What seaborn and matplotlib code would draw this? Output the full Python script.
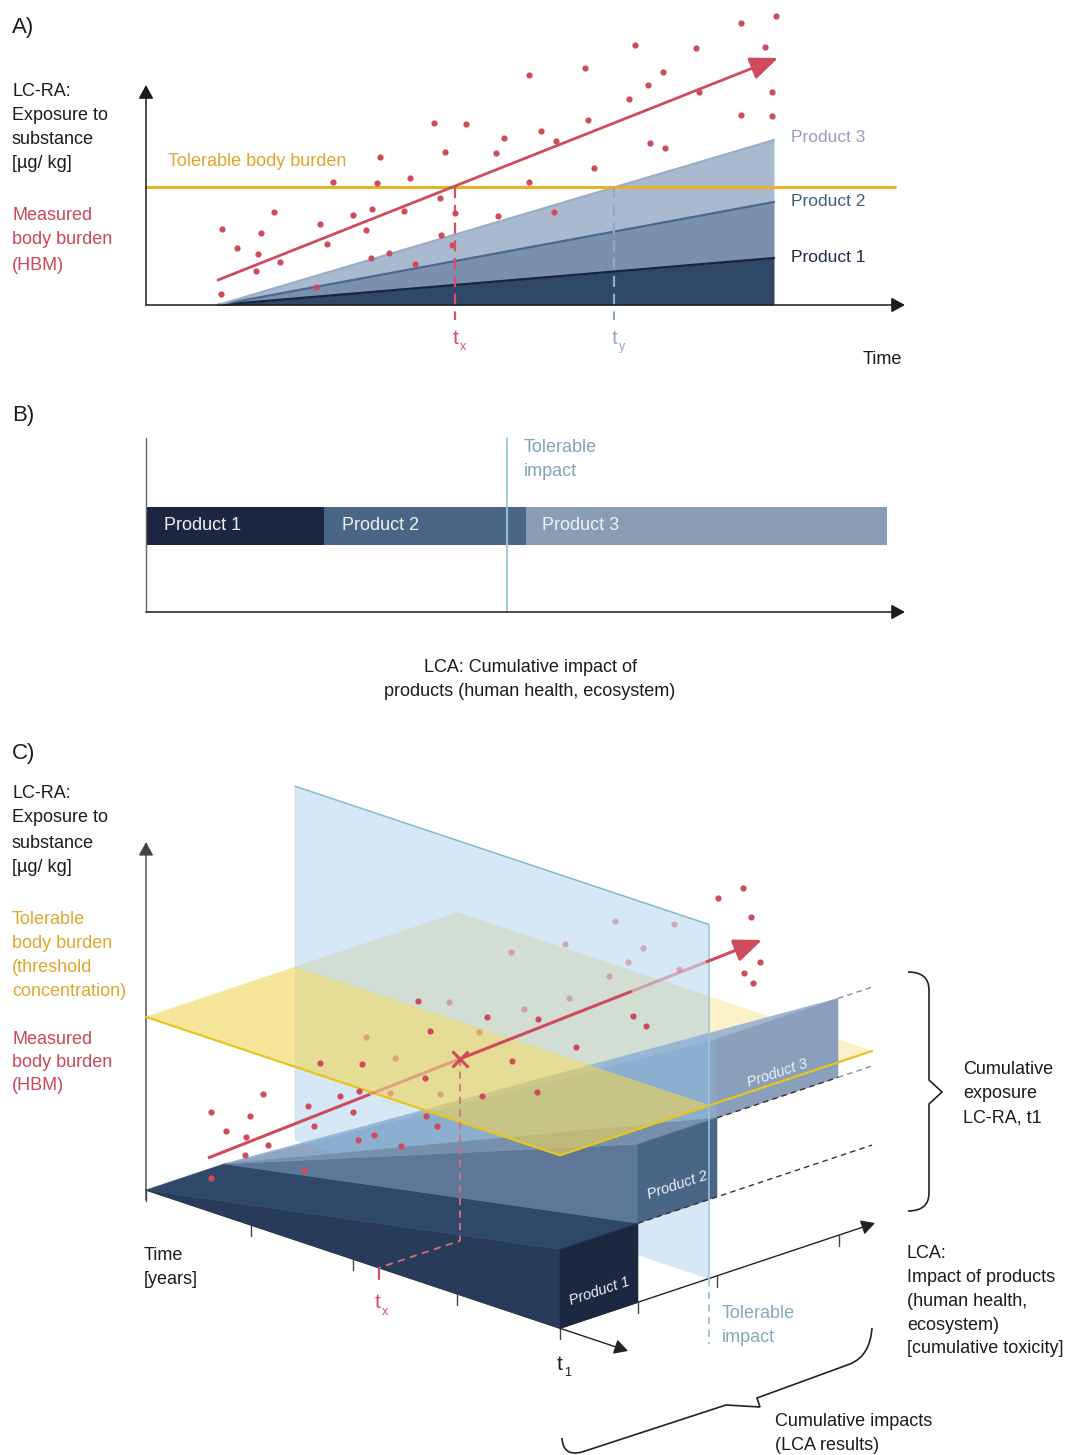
import numpy as np
import matplotlib
matplotlib.use("Agg")
import matplotlib.pyplot as plt
import seaborn as sns
from matplotlib.patches import Polygon, PathPatch
from matplotlib.path import Path

# ---------------------------------------------------------------- data
products = ["Product 1", "Product 2", "Product 3"]

# A) exposure to the substance over time (arbitrary units)
a_t_start, a_t_end = 7.2, 62.8
a_prod_exposure = [4.7, 5.6, 6.2]          # stacked contribution at the end of the period
a_tolerable = 11.8
a_trend_t = [7.2, 63.2]
a_trend_e = [2.5, 24.7]
a_tx, a_ty = 30.9, 46.8
a_hbm_t = [63.0, 59.5, 48.9, 55.0, 61.9, 38.3, 43.9, 51.7, 50.2, 48.3, 55.3, 62.6,
           59.5, 62.6, 28.8, 32.0, 44.2, 39.5, 35.8, 41.0, 50.4, 51.9, 29.9, 35.0,
           23.4, 44.8, 18.7, 23.1, 26.4, 38.3, 29.4, 12.8, 22.6, 25.8, 20.7, 30.9,
           35.2, 40.8, 7.6, 17.4, 22.0, 11.5, 18.1, 29.5, 9.1, 11.2, 30.6, 13.4,
           22.5, 24.3, 11.0, 26.9, 17.0, 7.5]
a_hbm_e = [28.9, 28.2, 26.0, 25.7, 25.8, 23.0, 23.7, 23.3, 22.0, 20.6, 21.3, 21.3,
           19.0, 18.9, 18.2, 18.1, 18.5, 17.4, 16.7, 16.4, 16.2, 15.7, 15.3, 15.2,
           14.8, 13.7, 12.3, 12.2, 12.7, 12.3, 10.7, 9.3, 9.6, 9.4, 9.0, 9.2,
           8.9, 9.3, 7.6, 8.1, 7.5, 7.2, 6.1, 7.0, 5.7, 5.1, 6.0, 4.3,
           4.7, 5.2, 3.4, 4.1, 1.8, 1.1]

# B) cumulative LCA impact of the products
b_impact = [17.8, 20.2, 36.1]
b_tolerable = 36.1

# C) combined view: time x impact x exposure
c_t1 = 41.4
c_time_ticks = [0.0, 10.5, 20.7, 31.1, 41.4]
c_impact = [7.8, 7.9, 12.1]
c_exposure = [7.9, 7.9, 7.9]
c_tol_impact = 14.9
c_tol_exposure = 17.3
c_impact_extent = 31.2
c_exposure_extent = 35.4
c_tx = 23.3
c_cross_impact = 8.1
c_trend_x = [6.2, 61.6]
c_trend_y = [3.2, 25.0]
c_trend_hidden = [(22.4, 31.4), (48.6, 56.1)]
c_hbm_x = [59.7, 57.2, 60.5, 61.4, 59.8, 60.7, 27.2, 34.1, 39.2, 48.7, 50.0, 28.4,
           43.0, 17.4, 21.6, 36.6, 27.9, 21.3, 33.6, 39.1, 11.7, 19.4, 6.5, 10.4,
           16.2, 20.7, 28.0, 8.0, 16.8, 29.1, 10.0, 12.2, 21.2, 22.8, 25.5, 9.9,
           15.8, 6.5]
c_hbm_y = [30.2, 29.2, 27.3, 22.8, 21.7, 20.7, 18.9, 17.3, 17.1, 17.4, 16.4, 15.9,
           14.3, 12.7, 12.6, 12.9, 11.2, 9.9, 9.4, 9.8, 9.6, 9.4, 7.8, 7.4,
           8.4, 7.8, 7.4, 5.9, 6.4, 6.4, 5.3, 4.5, 5.0, 5.5, 4.4, 3.5,
           2.0, 1.2]
c_hbm_hidden_x = [46.9, 52.8, 41.9, 49.7, 36.5, 48.2, 53.3, 46.3, 42.3, 30.3, 37.8,
                  33.3, 22.0, 24.9, 24.4, 29.4]
c_hbm_hidden_y = [26.9, 26.6, 24.6, 24.2, 23.8, 22.8, 22.1, 21.4, 19.2, 18.8, 18.1,
                  15.8, 15.3, 13.2, 9.7, 9.6]

# ---------------------------------------------------------------- style
sns.set_theme(style="white")
plt.rcParams["font.family"] = ["Liberation Sans", "DejaVu Sans"]

INK = "#1b1b1b"
RED = "#cf4b5b"
YELLOW_TXT = "#e2a52c"
A_FILL = ["#2f4868", "#7a90ad", "#a9bad0"]
A_LINE = ["#17243b", "#4a6889", "#98adc8"]
A_LABEL = ["#1f2d45", "#3f5f85", "#8ea3c1"]
B_FILL = ["#1c2640", "#4a6585", "#8a9db5"]

W, H = 1067, 1455
fig = plt.figure(figsize=(W / 100, H / 100), dpi=100)


def px_axes(left, top, right, bottom):
    ax = fig.add_axes([left / W, 1 - bottom / H, (right - left) / W, (bottom - top) / H])
    ax.axis("off")
    return ax


def arrow(ax, start, end, color=INK, lw=1.0, hl=0.55, hw=0.3, ms=15, z=3, alpha=1.0):
    ax.annotate("", xy=end, xytext=start,
                arrowprops=dict(arrowstyle=f"-|>,head_length={hl},head_width={hw}",
                                color=color, lw=lw, shrinkA=0, shrinkB=0,
                                mutation_scale=ms, alpha=alpha),
                zorder=z)


# ================================================================ A
axA = px_axes(100, 0, 930, 380)
axA.set_xlim((100 - 146) / 10, (930 - 146) / 10)
axA.set_ylim((305 - 380) / 10, 305 / 10)

t = np.array([a_t_start, a_t_end])
lower = np.zeros(2)
for inc, fc, lc in zip(a_prod_exposure, A_FILL, A_LINE):
    upper = lower + np.array([0.0, inc])
    axA.fill_between(t, lower, upper, color=fc, lw=0, zorder=2)
    sns.lineplot(x=t, y=upper, color=lc, lw=1.6, ax=axA, zorder=3)
    lower = upper

sns.lineplot(x=[0, 74.9], y=[a_tolerable, a_tolerable], color="#e8b322", lw=2.2,
             ax=axA, zorder=4)
axA.plot([a_tx, a_tx], [a_tolerable, -1.5], color="#d9505f", lw=1.6,
         dashes=(5, 3), zorder=4)
axA.plot([a_ty, a_ty], [a_tolerable, -1.5], color="#93a8c6", lw=1.6,
         dashes=(5, 3), zorder=4)
sns.scatterplot(x=a_hbm_t, y=a_hbm_e, color=RED, s=20, linewidth=0, ax=axA, zorder=5)
arrow(axA, (a_trend_t[0], a_trend_e[0]), (a_trend_t[1], a_trend_e[1]), color=RED,
      lw=2.0, hl=0.85, hw=0.35, ms=20, z=6)
arrow(axA, (0, 0), (75.9, 0), lw=1.1, z=7)
arrow(axA, (0, 0), (0, 22.0), lw=1.1, z=7)

# ================================================================ B
axB = px_axes(100, 420, 930, 640)
axB.set_xlim((100 - 146) / 10, (930 - 146) / 10)
axB.set_ylim((612 - 640) / 10, (612 - 420) / 10)
lefts = np.concatenate([[0.0], np.cumsum(b_impact)[:-1]])
axB.barh([8.6] * 3, b_impact, left=lefts, height=3.8, color=B_FILL, lw=0, zorder=2)
axB.plot([0, 0], [0, 17.4], color="#666666", lw=1.0, zorder=3)
axB.plot([b_tolerable, b_tolerable], [0, 17.4], color="#9cc7da", lw=1.3, zorder=4)
arrow(axB, (0, 0), (75.9, 0), lw=1.1, z=5)

# ================================================================ C
axC = px_axes(0, 740, 1067, 1455)
axC.set_xlim(-14.6, (1067 - 146) / 10)
axC.set_ylim((1190 - 1455) / 10, (1190 - 740) / 10)

K = 0.334


def proj(T, I, E):
    return (T + I, K * (I - T) + E)


def face(pts, color, z, alpha=1.0):
    axC.add_patch(Polygon([proj(*p) for p in pts], closed=True, fc=color, ec=color,
                          lw=0.4, alpha=alpha, zorder=z))


def seg(p, q, **kw):
    a, b = proj(*p), proj(*q)
    axC.plot([a[0], b[0]], [a[1], b[1]], **kw)


t1 = c_t1
cI = np.concatenate([[0.0], np.cumsum(c_impact)])
cE = np.concatenate([[0.0], np.cumsum(c_exposure)])
apex = (0.0, cI[1], 0.0)

# axes
arrow(axC, (0, -1.0), (0, 34.8), color="#444444", lw=1.0, z=1)
seg((0, 0, 0), (t1, 0, 0), color="#333333", lw=1.0, zorder=1)
arrow(axC, proj(t1, 0, 0), proj(48.2, 0, 0), color="#222222", lw=1.0, z=1)
arrow(axC, proj(t1, 0, 0), proj(t1, 31.5, 0), color="#222222", lw=1.0, z=1)
for tt in c_time_ticks:
    x0, y0 = proj(tt, 0, 0)
    axC.plot([x0, x0], [y0, y0 - 1.1], color="#444444", lw=1.0, zorder=1)
for ii in list(cI[1:3]) + [cI[3] + 0.1]:
    x0, y0 = proj(t1, ii, 0)
    axC.plot([x0, x0], [y0, y0 - 1.1], color="#444444", lw=1.0, zorder=1)

E0 = c_tol_exposure
# threshold plane behind the tolerable-impact plane
face([(0, c_tol_impact, E0), (0, c_impact_extent, E0), (t1, c_impact_extent, E0),
      (t1, c_tol_impact, E0)], "#f0d656", 2, alpha=0.32)

# product 3 wedge
face([apex, (t1, cI[2], cE[2]), (t1, cI[2], cE[3])], "#8ea6c3", 3)
face([apex, (t1, cI[2], cE[3]), (t1, cI[3], cE[3])], "#a0b5cf", 3)
face([(t1, cI[2], cE[2]), (t1, cI[3], cE[2]), (t1, cI[3], cE[3]), (t1, cI[2], cE[3])],
     "#8a9fba", 3)

# tolerable-impact plane
face([(0, c_tol_impact, 0), (t1, c_tol_impact, 0), (t1, c_tol_impact, c_exposure_extent),
      (0, c_tol_impact, c_exposure_extent)], "#8abde8", 4, alpha=0.35)

# product 1 wedge
face([(0, 0, 0), (t1, 0, 0), (t1, 0, cE[1])], "#283b59", 5)
face([(0, 0, 0), (0, cI[1], 0), (t1, cI[1], cE[1]), (t1, 0, cE[1])], "#2f4869", 5)
face([(t1, 0, 0), (t1, cI[1], 0), (t1, cI[1], cE[1]), (t1, 0, cE[1])], "#1c2740", 5)
# product 2 wedge
face([apex, (t1, cI[1], cE[1]), (t1, cI[1], cE[2])], "#5c7797", 5)
face([apex, (t1, cI[1], cE[2]), (t1, cI[2], cE[2])], "#7690ae", 5)
face([(t1, cI[1], cE[1]), (t1, cI[2], cE[1]), (t1, cI[2], cE[2]), (t1, cI[1], cE[2])],
     "#4a6687", 5)

# threshold plane in front of the tolerable-impact plane
face([(0, 0, E0), (0, c_tol_impact, E0), (t1, c_tol_impact, E0), (t1, 0, E0)],
     "#f0d656", 6, alpha=0.6)
seg((0, 0, E0), (t1, 0, E0), color="#e8c51c", lw=1.6, zorder=7)
seg((t1, 0, E0), (t1, c_impact_extent, E0), color="#e8c51c", lw=1.6, zorder=7)

# tolerable-impact plane edges
seg((0, c_tol_impact, c_exposure_extent), (t1, c_tol_impact, c_exposure_extent),
    color="#86b9cc", lw=1.1, zorder=7)
seg((t1, c_tol_impact, 0), (t1, c_tol_impact, c_exposure_extent),
    color="#9cc6d8", lw=1.1, zorder=7)
xe, ye = proj(t1, c_tol_impact, 0)
axC.plot([xe, xe], [ye, ye - 6.5], color="#9cc6d8", lw=1.3, dashes=(4, 3), zorder=7)

# cumulative exposure levels carried to the right
seg((t1, cI[1], cE[1]), (t1, c_impact_extent, cE[1]), color="#333333", lw=1.0,
    dashes=(4, 3), zorder=7)
seg((t1, cI[2], cE[2]), (t1, cI[3], cE[2]), color="#333333", lw=1.0,
    dashes=(4, 3), zorder=7)
seg((t1, cI[3], cE[2]), (t1, c_impact_extent, cE[2]), color="#7d8ea6", lw=1.0,
    dashes=(4, 3), zorder=7)
seg((t1, cI[3], cE[3]), (t1, c_impact_extent, cE[3]), color="#7d8ea6", lw=1.0,
    dashes=(4, 3), zorder=7)

# measured body burden
sns.scatterplot(x=c_hbm_hidden_x, y=c_hbm_hidden_y, color=RED, alpha=0.4, s=20,
                linewidth=0, ax=axC, zorder=8)
sns.scatterplot(x=c_hbm_x, y=c_hbm_y, color=RED, s=20, linewidth=0, ax=axC, zorder=10)

slope = (c_trend_y[1] - c_trend_y[0]) / (c_trend_x[1] - c_trend_x[0])


def trend(x):
    return c_trend_y[0] + slope * (np.asarray(x) - c_trend_x[0])


cuts = [c_trend_x[0]] + [v for pair in c_trend_hidden for v in pair] + [c_trend_x[1]]
for k in range(len(cuts) - 1):
    xs = np.array([cuts[k], cuts[k + 1]])
    hidden = k % 2 == 1
    if k == len(cuts) - 2:
        arrow(axC, (xs[0], trend(xs[0])), (xs[1], trend(xs[1])), color=RED, lw=2.2,
              hl=0.85, hw=0.35, ms=20, z=10)
    else:
        axC.plot(xs, trend(xs), color=RED, lw=2.2, alpha=0.4 if hidden else 1.0,
                 solid_capstyle="butt", zorder=8 if hidden else 10)

# crossing of the threshold and its time t_x
xc = c_tx + c_cross_impact
yc = float(trend(xc))
g0 = proj(c_tx, c_cross_impact, 0)
g1 = proj(c_tx, 0, 0)
axC.plot([xc, g0[0], g1[0]], [yc, g0[1], g1[1]], color="#e06a78", lw=1.3,
         dashes=(4, 3), zorder=9)
axC.plot([g1[0], g1[0]], [g1[1], g1[1] - 1.1], color=RED, lw=1.6, zorder=9)
axC.plot([xc], [yc], marker="x", ms=11, mew=2.2, color=RED, zorder=11)

# product labels on the front faces
for k, name in enumerate(products):
    xl, yl = proj(t1, (cI[k] + cI[k + 1]) / 2, cE[k] + 0.31 * c_exposure[k])
    axC.text(xl, yl, name, rotation=18.5, rotation_mode="anchor", ha="center",
             va="center", color="#eef2f8", fontsize=10.5, style="italic", zorder=12)

# ================================================================ text and braces
ov = fig.add_axes([0, 0, 1, 1], zorder=20)
ov.set_xlim(0, W)
ov.set_ylim(H, 0)
ov.axis("off")
ov.patch.set_visible(False)


def txt(x, y, s, size=13, color=INK, ha="left", **kw):
    ov.text(x, y, s, fontsize=size, color=color, ha=ha, va="center", **kw)


def lines(x, y0, dy, rows, **kw):
    for i, s in enumerate(rows):
        txt(x, y0 + i * dy, s, **kw)


def sub_label(x, y, main, sub, color):
    txt(x, y, main, size=15, color=color)
    txt(x + 7, y + 9, sub, size=9, color=color)


# A
txt(12, 28, "A)", size=16)
lines(12, 92, 24, ["LC-RA:", "Exposure to", "substance", "[µg/ kg]"])
lines(12, 215, 25, ["Measured", "body burden", "(HBM)"], color="#cc4656")
txt(168, 162, "Tolerable body burden", color=YELLOW_TXT)
for name, yy, col in zip(products, [258, 201, 138], A_LABEL):
    txt(791, yy, name, size=12.5, color=col)
txt(863, 360, "Time")
sub_label(453, 338, "t", "x", "#d24f5f")
sub_label(612, 338, "t", "y", "#93a8c6")

# B
txt(12, 415, "B)", size=16)
for name, xx in zip(products, [164, 342, 542]):
    txt(xx, 526, name, color="#eef1f6")
lines(524, 448, 24, ["Tolerable", "impact"], color="#7fa4b5")
lines(530, 667, 25, ["LCA: Cumulative impact of", "products (human health, ecosystem)"],
      ha="center")

# C
txt(12, 753, "C)", size=16)
lines(12, 793, 25, ["LC-RA:", "Exposure to", "substance", "[µg/ kg]"])
lines(12, 920, 23.7, ["Tolerable", "body burden", "(threshold", "concentration)"],
      color=YELLOW_TXT)
lines(12, 1039, 23.5, ["Measured", "body burden", "(HBM)"], color="#cc4656")
lines(144, 1256, 24, ["Time", "[years]"])
sub_label(375, 1303, "t", "x", "#d24f5f")
sub_label(557, 1364, "t", "1", INK)
lines(722, 1314, 24, ["Tolerable", "impact"], color="#86a9b8")
lines(963, 1069, 24.5, ["Cumulative", "exposure", "LC-RA, t1"])
lines(907, 1254, 23.7, ["LCA:", "Impact of products", "(human health,", "ecosystem)",
                        "[cumulative toxicity]"])
lines(775, 1422, 24, ["Cumulative impacts", "(LCA results)"])

# braces
M, L, Q = Path.MOVETO, Path.LINETO, Path.CURVE3
brace_v = Path([(908, 972), (929, 972), (929, 990), (929, 1080), (942, 1092),
                (929, 1104), (929, 1193), (929, 1211), (908, 1211)],
               [M, Q, Q, L, L, L, L, Q, Q])
ov.add_patch(PathPatch(brace_v, fc="none", ec="#222222", lw=1.2))
brace_d = Path([(872, 1328), (870, 1356), (850, 1364), (757, 1398), (760, 1407),
                (726, 1405), (582, 1452), (563, 1457), (562, 1438)],
               [M, Q, Q, L, L, L, L, Q, Q])
ov.add_patch(PathPatch(brace_d, fc="none", ec="#222222", lw=1.2))

fig.savefig("out.png", dpi=100, facecolor="white")
